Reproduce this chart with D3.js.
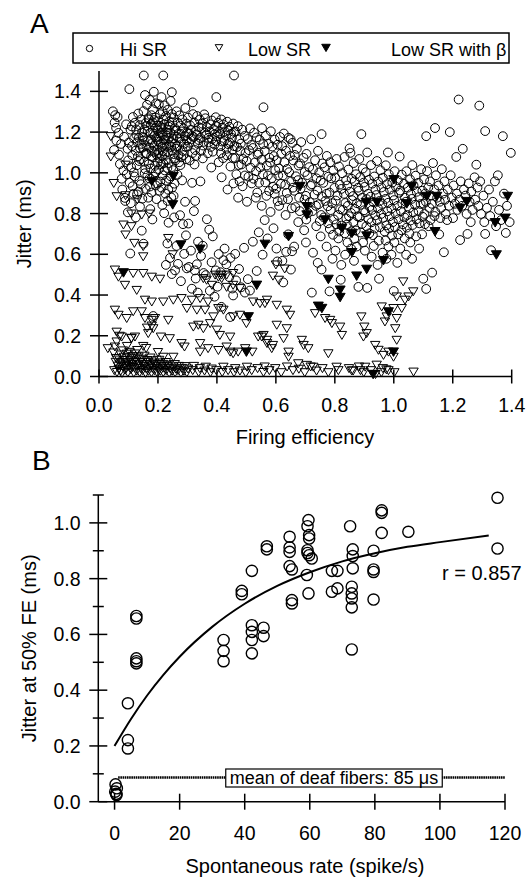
<!DOCTYPE html>
<html><head><meta charset="utf-8">
<script src="https://cdn.jsdelivr.net/npm/d3@7"></script>
<style>body{margin:0;background:#fff}svg{display:block}text{font-family:"Liberation Sans",Arial,sans-serif;fill:#000}</style>
</head><body>
<svg id="c" width="530" height="877"></svg>
<script>
// ---------- Panel A data: [firing efficiency, jitter (ms)] ----------
// Hi SR, low firing efficiency part (x < 0.30)
const hiSRleft = [
[0.047,1.302],[0.053,1.247],[0.058,1.221],[0.055,1.283],[0.059,1.158],[0.051,1.112],
[0.066,1.196],[0.071,1.043],[0.077,0.971],[0.063,1.274],[0.075,1.142],[0.068,1.089],[0.079,0.918],
[0.083,1.012],[0.088,0.877],[0.092,1.238],[0.085,1.177],[0.097,1.118],[0.094,0.993],[0.089,0.862],[0.098,0.806],[0.099,1.061],
[0.103,1.411],[0.107,1.212],[0.101,1.148],[0.113,1.086],[0.109,1.027],[0.104,0.951],[0.117,0.897],[0.106,0.604],[0.115,1.274],[0.111,1.228],[0.119,1.169],[0.112,1.131],[0.118,1.002],[0.114,0.934],[0.108,0.851],
[0.122,1.246],[0.127,1.186],[0.131,1.151],[0.124,1.109],[0.136,1.058],[0.121,0.982],[0.129,0.894],[0.125,0.781],[0.133,1.291],[0.138,1.234],[0.126,1.213],[0.135,1.172],[0.139,1.121],[0.132,1.081],[0.128,1.037],[0.137,0.961],[0.134,0.908],[0.139,0.834],
[0.143,1.262],[0.146,1.198],[0.152,1.159],[0.148,1.124],[0.141,1.067],[0.157,1.018],[0.142,0.944],[0.147,0.873],[0.145,0.716],[0.152,1.478],[0.156,1.382],[0.151,1.303],[0.158,1.244],[0.154,1.213],[0.149,1.176],[0.159,1.097],[0.144,1.142],[0.155,0.998],[0.158,0.921],[0.151,0.652],[0.153,1.055],
[0.163,1.334],[0.168,1.268],[0.161,1.231],[0.174,1.196],[0.166,1.157],[0.171,1.124],[0.162,1.093],[0.177,1.082],[0.169,1.043],[0.164,0.987],[0.173,0.933],[0.167,0.878],[0.172,1.358],[0.178,1.283],[0.165,1.206],[0.176,1.163],[0.161,1.131],[0.179,1.108],[0.175,1.021],[0.171,0.972],[0.178,0.903],[0.174,0.822],[0.169,1.262],[0.176,1.238],
[0.183,1.312],[0.186,1.259],[0.192,1.221],[0.188,1.182],[0.181,1.146],[0.197,1.113],[0.182,1.077],[0.189,1.034],[0.185,0.981],[0.193,0.938],[0.181,0.771],[0.184,0.297],[0.186,1.398],[0.193,1.341],[0.191,1.272],[0.197,1.232],[0.184,1.193],[0.198,1.162],[0.187,1.133],[0.196,1.088],[0.199,1.052],[0.193,1.003],[0.197,0.948],[0.195,0.871],[0.188,1.102],[0.194,1.173],[0.182,1.248],[0.199,1.207],
[0.203,1.337],[0.207,1.288],[0.201,1.253],[0.213,1.214],[0.204,1.178],[0.209,1.142],[0.216,1.107],[0.206,1.071],[0.203,1.018],[0.208,0.957],[0.205,0.912],[0.212,1.372],[0.216,1.302],[0.218,1.262],[0.211,1.224],[0.217,1.188],[0.202,1.153],[0.219,1.161],[0.214,1.083],[0.211,1.042],[0.216,0.988],[0.212,0.927],[0.215,0.842],[0.209,1.197],[0.214,1.128],[0.201,1.097],[0.218,1.046],[0.207,1.231],
[0.218,1.478],[0.223,1.331],[0.227,1.279],[0.221,1.238],[0.232,1.197],[0.224,1.163],[0.229,1.128],[0.222,1.092],[0.236,1.048],[0.223,1.012],[0.228,0.962],[0.225,0.898],[0.221,0.802],[0.227,0.548],[0.233,1.309],[0.238,1.252],[0.231,1.213],[0.236,1.171],[0.239,1.137],[0.234,1.102],[0.226,1.063],[0.232,1.024],[0.238,0.971],[0.235,0.917],[0.233,0.862],[0.236,0.755],[0.232,0.653],[0.229,1.183],[0.237,1.226],[0.222,1.141],
[0.243,1.353],[0.247,1.289],[0.241,1.233],[0.253,1.186],[0.244,1.152],[0.249,1.109],[0.256,1.071],[0.246,1.028],[0.243,0.983],[0.248,0.927],[0.245,0.879],[0.241,0.582],[0.247,0.503],[0.247,1.396],[0.253,1.271],[0.257,1.219],[0.251,1.168],[0.258,1.142],[0.254,1.092],[0.259,1.061],[0.252,1.013],[0.256,0.947],[0.253,0.887],[0.255,0.781],[0.258,0.521],[0.242,1.198],[0.249,1.247],[0.245,1.127],
[0.263,1.302],[0.267,1.247],[0.261,1.208],[0.274,1.169],[0.264,1.131],[0.269,1.088],[0.272,1.052],[0.266,0.991],[0.263,0.641],[0.268,0.553],[0.273,1.282],[0.277,1.232],[0.271,1.193],[0.278,1.153],[0.262,1.118],[0.279,1.076],[0.276,1.038],[0.275,0.792],[0.278,0.468],[0.266,1.176],
[0.283,1.262],[0.287,1.218],[0.291,1.181],[0.288,1.142],[0.284,1.108],[0.296,1.067],[0.282,0.963],[0.285,0.748],[0.289,0.602],[0.293,1.318],[0.297,1.242],[0.281,1.203],[0.298,1.161],[0.294,1.128],[0.286,1.087],[0.292,0.858],[0.295,0.693],[0.298,0.531],[0.299,1.196]
];
// Hi SR, middle part, read in narrow x bins: [x values, jitter values]
const hiSRmid = [
[[0.302,0.309,0.305,0.314,0.301,0.317,0.308,0.312,0.319,0.306,0.315,0.303,0.305,0.316,0.312,0.315,0.318],[1.271,1.233,1.194,1.166,1.129,1.097,1.061,1.212,1.288,1.148,1.181,0.751,0.538,0.951,0.618,0.431,1.346]],
[[0.323,0.328,0.321,0.336,0.326,0.333,0.339,0.331,0.324,0.338,0.329,0.326,0.322,0.325,0.328,0.336,0.332,0.335],[1.247,1.206,1.176,1.143,1.112,1.279,1.224,1.189,1.041,1.161,1.083,0.862,0.812,0.521,0.481,0.662,0.551,0.412]],
[[0.342,0.348,0.344,0.353,0.357,0.351,0.359,0.346,0.355,0.352,0.344,0.346,0.352,0.355],[1.262,1.219,1.171,1.134,1.287,1.241,1.196,1.108,1.152,1.071,0.958,0.592,0.642,0.508]],
[[0.361,0.366,0.364,0.372,0.369,0.377,0.375,0.371,0.379,0.366,0.362,0.374,0.376],[1.268,1.224,1.187,1.149,1.096,1.238,1.203,1.172,1.127,0.772,0.498,0.721,0.421]],
[[0.383,0.389,0.384,0.392,0.386,0.396,0.398,0.393,0.381,0.397,0.386,0.382,0.396,0.392,0.398],[1.257,1.214,1.166,1.139,1.104,1.273,1.229,1.191,1.026,1.156,0.688,0.561,0.521,0.392,1.372]],
[[0.404,0.408,0.401,0.413,0.406,0.415,0.419,0.411,0.417,0.414,0.416,0.406,0.402,0.412,0.415],[1.246,1.203,1.178,1.131,1.052,1.262,1.222,1.191,1.154,1.097,0.978,0.601,0.441,0.512,0.342]],
[[0.422,0.427,0.424,0.433,0.421,0.435,0.439,0.431,0.438,0.434,0.436,0.426,0.422,0.432],[1.238,1.203,1.157,1.118,1.072,1.251,1.208,1.183,1.141,1.086,0.918,0.628,0.571,0.551]],
[[0.442,0.448,0.444,0.453,0.446,0.455,0.458,0.451,0.459,0.454,0.456,0.446,0.442,0.445,0.452,0.455,0.458],[1.226,1.191,1.146,1.113,1.031,1.242,1.201,1.172,1.131,1.074,0.948,0.582,0.488,0.292,0.432,0.398,1.478]],
[[0.471,0.463,0.476,0.468,0.479,0.462,0.474,0.466,0.477,0.472,0.462,0.465,0.475],[1.229,1.203,1.164,1.127,1.109,1.072,1.038,0.993,0.958,0.878,0.602,0.472,0.528]],
[[0.486,0.494,0.481,0.497,0.489,0.483,0.495,0.487,0.482,0.492,0.495],[1.212,1.181,1.143,1.097,1.068,1.041,0.987,0.934,0.438,0.632,0.412]],
[[0.512,0.504,0.517,0.509,0.501,0.514,0.507,0.518,0.502,0.505,0.512],[1.218,1.166,1.137,1.111,1.058,1.026,0.981,0.948,0.858,0.478,0.422]],
[[0.526,0.535,0.522,0.538,0.529,0.533,0.524,0.537,0.532,0.522,0.535],[1.197,1.174,1.122,1.089,1.051,1.008,0.971,0.903,0.878,0.662,0.518]],
[[0.558,0.553,0.545,0.557,0.541,0.552,0.547,0.556,0.543,0.552,0.542,0.555],[1.322,1.219,1.162,1.141,1.098,1.064,1.027,0.993,0.951,0.838,0.708,0.598]],
[[0.566,0.575,0.562,0.578,0.569,0.573,0.564,0.577,0.568,0.562,0.572],[1.183,1.142,1.107,1.074,1.036,0.987,0.953,0.911,0.887,0.768,0.678]],
[[0.583,0.596,0.588,0.593,0.581,0.598,0.586,0.591,0.596,0.582,0.592],[1.204,1.163,1.129,1.082,1.051,1.013,0.974,0.931,0.897,0.808,0.728]],
[[0.614,0.606,0.618,0.603,0.611,0.608,0.617,0.601,0.606,0.611,0.602,0.605],[1.176,1.138,1.094,1.062,1.021,0.987,0.946,0.922,0.861,0.838,0.628,0.565]],
[[0.627,0.621,0.634,0.629,0.638,0.624,0.632,0.637,0.622,0.633,0.622,0.625,0.635],[1.193,1.131,1.108,1.052,1.019,0.987,0.941,0.902,0.866,0.793,0.568,0.462,0.612]],
[[0.643,0.656,0.648,0.659,0.645,0.652,0.658,0.641,0.654,0.642,0.655,0.651,0.650],[1.172,1.147,1.083,1.061,1.003,0.958,0.927,0.871,0.826,0.698,0.615,0.525,1.165]],
[[0.671,0.664,0.677,0.668,0.675,0.662,0.679,0.666,0.676,0.662],[1.118,1.088,1.036,0.983,0.964,0.912,0.878,0.832,0.758,0.638]],
[[0.686,0.694,0.682,0.698,0.689,0.684,0.697,0.681,0.696],[1.151,1.074,1.046,1.004,0.951,0.923,0.869,0.812,0.718]],
[[0.720,0.704,0.713,0.707,0.718,0.702,0.715,0.709,0.703,0.702],[1.165,1.093,1.028,0.989,0.936,0.887,0.856,0.802,0.771,0.658]],
[[0.733,0.726,0.738,0.722,0.731,0.736,0.724,0.737,0.726,0.722],[1.062,1.017,0.973,0.944,0.893,0.838,0.812,0.738,0.608,0.412]],
[[0.755,0.743,0.758,0.747,0.752,0.741,0.756,0.745,0.754,0.749,0.752,0.742,0.755],[1.190,1.108,1.046,1.002,0.962,0.913,0.884,0.846,0.793,0.763,0.688,0.558,0.525]],
[[0.773,0.765,0.778,0.761,0.772,0.768,0.776,0.763,0.777,0.772],[1.083,1.027,0.981,0.951,0.897,0.862,0.836,0.781,0.752,0.638]],
[[0.784,0.795,0.788,0.799,0.782,0.791,0.786,0.797,0.783,0.794,0.792,0.782],[1.052,1.011,0.973,0.926,0.903,0.851,0.817,0.771,0.724,0.696,0.578,0.418]],
[[0.806,0.814,0.801,0.817,0.809,0.803,0.818,0.811,0.805,0.815,0.812,0.802],[1.068,1.031,0.977,0.942,0.889,0.864,0.821,0.793,0.747,0.712,0.678,0.618]],
[[0.833,0.825,0.838,0.822,0.831,0.836,0.827,0.839,0.823,0.834,0.835,0.822,0.820],[1.078,0.998,0.963,0.921,0.897,0.852,0.818,0.776,0.741,0.703,0.598,0.548,0.475]],
[[0.850,0.853,0.846,0.857,0.842,0.851,0.858,0.844,0.855,0.848,0.841,0.856,0.843,0.855],[1.120,1.098,1.016,0.971,0.938,0.907,0.866,0.838,0.803,0.787,0.746,0.713,0.658,0.628]],
[[0.864,0.872,0.867,0.879,0.862,0.875,0.868,0.877,0.863,0.871,0.866,0.874,0.865],[1.048,0.993,0.958,0.927,0.886,0.851,0.823,0.786,0.759,0.717,0.676,0.638,0.568]],
[[0.890,0.883,0.895,0.886,0.898,0.881,0.893,0.887,0.899,0.884,0.892,0.888,0.896,0.880],[1.190,1.068,1.021,0.979,0.952,0.912,0.878,0.843,0.816,0.782,0.749,0.707,0.658,0.440]],
[[0.910,0.905,0.916,0.901,0.913,0.908,0.918,0.903,0.914,0.907,0.917,0.902,0.910],[1.100,1.003,0.966,0.931,0.897,0.871,0.833,0.806,0.772,0.738,0.703,0.618,0.435]],
[[0.923,0.934,0.927,0.938,0.921,0.931,0.926,0.937,0.924,0.935,0.929,0.932,0.925],[1.038,0.982,0.947,0.917,0.883,0.856,0.818,0.791,0.757,0.726,0.694,0.641,0.588]],
[[0.943,0.955,0.947,0.958,0.941,0.952,0.946,0.957,0.944,0.953,0.949,0.945,0.950],[1.058,1.013,0.957,0.928,0.891,0.862,0.827,0.798,0.768,0.733,0.667,0.548,0.480]],
[[0.980,0.973,0.963,0.977,0.966,0.972,0.961,0.978,0.964,0.975,0.969,0.972,0.962,0.975],[1.100,1.037,0.976,0.944,0.906,0.872,0.847,0.811,0.779,0.742,0.712,0.668,0.608,0.578]],
[[0.983,0.995,0.987,0.998,0.981,0.992,0.986,0.997,0.984,0.994,0.982,0.992],[0.993,0.952,0.918,0.889,0.853,0.824,0.787,0.758,0.727,0.692,0.638,0.598]],
[[1.020,1.003,1.014,1.007,1.018,1.001,1.012,1.006,1.016,1.004,1.015,1.002,1.012,1.000],[1.080,1.008,0.963,0.932,0.902,0.866,0.838,0.801,0.772,0.734,0.698,0.658,0.558,0.420]],
[[1.027,1.035,1.022,1.038,1.029,1.024,1.036,1.031,1.026,1.037,1.022],[0.991,0.946,0.913,0.878,0.849,0.812,0.781,0.747,0.718,0.678,0.628]],
[[1.043,1.055,1.047,1.058,1.041,1.052,1.046,1.057,1.044,1.053,1.056,1.042],[1.008,0.968,0.927,0.896,0.858,0.827,0.793,0.766,0.731,0.702,0.658,0.598]],
[[1.063,1.074,1.067,1.078,1.061,1.072,1.066,1.077,1.064,1.076,1.062],[1.038,0.986,0.939,0.907,0.872,0.843,0.806,0.772,0.744,0.688,0.578]],
[[1.093,1.083,1.097,1.086,1.091,1.084,1.098,1.087,1.096,1.086,1.100],[1.018,0.951,0.912,0.881,0.847,0.813,0.784,0.752,0.698,0.628,0.480]]
];
// Hi SR, high firing efficiency part (x > 1.10)
const hiSRright = [
[1.103,0.968],[1.107,0.898],[1.101,0.848],[1.104,0.798],[1.106,0.748],[1.110,1.180],[1.113,1.008],[1.117,0.928],[1.109,0.858],[1.118,0.738],[1.110,0.430],[1.123,0.958],[1.127,0.888],[1.121,0.828],[1.124,0.768],[1.130,0.510],
[1.133,1.048],[1.137,0.918],[1.129,0.848],[1.138,0.788],[1.140,1.220],[1.143,0.988],[1.147,0.878],[1.141,0.808],[1.152,0.938],[1.156,0.858],[1.158,0.778],[1.154,0.698],[1.163,1.018],[1.167,0.898],[1.161,0.828],
[1.172,0.958],[1.174,0.868],[1.176,0.798],[1.170,0.610],[1.183,0.918],[1.187,0.838],[1.181,0.768],[1.190,1.200],[1.193,0.988],[1.197,0.878],[1.203,0.938],[1.207,0.848],[1.201,0.778],[1.212,1.078],[1.214,0.898],[1.216,0.818],
[1.220,1.360],[1.225,0.670],[1.227,0.958],[1.223,0.868],[1.234,1.118],[1.238,0.918],[1.232,0.838],[1.243,0.888],[1.247,0.798],[1.250,0.700],[1.254,0.948],[1.257,0.858],[1.263,0.908],[1.267,0.818],[1.261,0.758],
[1.274,0.978],[1.276,0.868],[1.280,1.040],[1.284,0.928],[1.287,0.838],[1.290,1.330],[1.293,0.958],[1.296,0.798],[1.304,0.888],[1.307,0.758],[1.310,1.205],[1.310,0.700],[1.316,0.828],[1.323,0.918],[1.327,0.788],
[1.330,0.620],[1.336,0.858],[1.343,0.958],[1.347,0.738],[1.353,0.988],[1.357,0.818],[1.364,0.768],[1.370,1.180],[1.374,0.898],[1.380,0.705],[1.384,0.838],[1.393,0.758],[1.397,1.098]
];
const lowSR = [
[0.052,0.031],[0.057,0.072],[0.049,0.118],[0.061,0.022],[0.064,0.053],[0.058,0.091],[0.067,0.038],[0.071,0.064],[0.069,0.083],[0.074,0.108],[0.073,0.027],[0.078,0.018],[0.082,0.049],[0.079,0.071],[0.085,0.097],[0.081,0.128],
[0.088,0.033],[0.091,0.058],[0.087,0.081],[0.094,0.112],[0.092,0.041],[0.098,0.021],[0.101,0.052],[0.097,0.069],[0.104,0.093],[0.103,0.121],[0.108,0.036],[0.111,0.062],[0.107,0.079],[0.114,0.101],[0.113,0.046],[0.118,0.019],
[0.121,0.043],[0.117,0.071],[0.124,0.089],[0.122,0.113],[0.128,0.029],[0.131,0.054],[0.127,0.078],[0.134,0.098],[0.138,0.022],[0.141,0.041],[0.137,0.063],[0.144,0.087],[0.148,0.031],[0.151,0.052],[0.147,0.071],[0.154,0.102],
[0.158,0.018],[0.161,0.038],[0.157,0.061],[0.164,0.081],[0.168,0.028],[0.171,0.049],[0.167,0.072],[0.174,0.093],[0.178,0.021],[0.181,0.042],[0.177,0.058],[0.184,0.079],[0.188,0.031],[0.191,0.053],[0.187,0.068],[0.198,0.019],
[0.201,0.039],[0.197,0.061],[0.204,0.082],[0.208,0.028],[0.211,0.051],[0.207,0.069],[0.218,0.022],[0.221,0.043],[0.217,0.062],[0.228,0.031],[0.231,0.052],[0.227,0.071],[0.238,0.019],[0.241,0.041],[0.237,0.058],[0.248,0.028],
[0.251,0.049],[0.258,0.021],[0.261,0.038],[0.257,0.061],[0.268,0.031],[0.271,0.052],[0.278,0.019],[0.281,0.042],[0.288,0.028],[0.291,0.051],[0.298,0.021],[0.302,0.039],[0.318,0.031],[0.322,0.052],[0.338,0.022],[0.342,0.041],
[0.358,0.029],[0.362,0.048],[0.378,0.021],[0.382,0.039],[0.398,0.031],[0.418,0.022],[0.422,0.048],[0.438,0.031],[0.458,0.021],[0.462,0.041],[0.478,0.029],[0.498,0.019],[0.502,0.048],[0.518,0.031],[0.538,0.041],[0.558,0.022],
[0.562,0.049],[0.578,0.031],[0.598,0.041],[0.618,0.021],[0.638,0.049],[0.658,0.031],[0.676,0.065],[0.678,0.038],[0.698,0.021],[0.705,0.057],[0.718,0.049],[0.727,0.048],[0.738,0.029],[0.758,0.041],[0.778,0.021],[0.806,0.048],
[0.812,0.031],[0.848,0.041],[0.857,0.030],[0.862,0.029],[0.882,0.049],[0.887,0.031],[0.898,0.021],[0.903,0.048],[0.922,0.031],[0.938,0.012],[0.942,0.058],[0.958,0.021],[0.963,0.041],[0.975,0.035],[0.982,0.031],[1.002,0.021],[1.067,0.024],
[0.030,0.139],[0.054,0.147],[0.040,1.180],[0.040,1.080],[0.090,1.040],[0.050,0.950],[0.060,0.885],[0.090,0.890],[0.130,0.870],[0.110,0.800],[0.145,0.795],[0.170,0.800],[0.083,0.746],[0.110,0.738],[0.090,0.697],[0.235,0.680],
[0.120,0.656],[0.150,0.640],[0.150,0.590],[0.250,0.600],[0.054,0.525],[0.066,0.490],[0.088,0.450],[0.116,0.508],[0.150,0.508],[0.179,0.490],[0.207,0.480],[0.128,0.425],[0.156,0.377],[0.179,0.368],[0.218,0.368],[0.252,0.377],
[0.054,0.328],[0.066,0.303],[0.094,0.287],[0.156,0.287],[0.179,0.278],[0.163,0.240],[0.179,0.250],[0.060,0.220],[0.077,0.196],[0.060,0.172],[0.110,0.188],[0.122,0.196],[0.210,0.196],[0.240,0.188],[0.150,0.150],[0.160,0.140],
[0.218,0.097],[0.252,0.097],[0.280,0.385],[0.315,0.377],[0.343,0.385],[0.370,0.368],[0.298,0.336],[0.332,0.328],[0.360,0.328],[0.320,0.245],[0.337,0.254],[0.354,0.237],[0.377,0.262],[0.400,0.230],[0.410,0.204],[0.445,0.196],
[0.280,0.164],[0.290,0.147],[0.343,0.164],[0.343,0.122],[0.370,0.139],[0.405,0.130],[0.433,0.147],[0.365,0.475],[0.383,0.450],[0.405,0.490],[0.416,0.483],[0.433,0.440],[0.455,0.450],[0.478,0.434],[0.354,0.483],[0.394,0.500],
[0.416,0.500],[0.433,0.500],[0.455,0.508],[0.405,0.336],[0.422,0.328],[0.388,0.295],[0.455,0.295],[0.478,0.303],[0.500,0.262],[0.523,0.368],[0.546,0.360],[0.570,0.377],[0.540,0.196],[0.558,0.204],[0.570,0.180],[0.496,0.139],
[0.520,0.122],[0.445,0.122],[0.455,0.114],[0.472,0.122],[0.235,0.278],[0.190,0.287],[0.145,0.320],[0.116,0.320],[0.184,0.237],[0.167,0.213],[0.590,0.495],[0.610,0.475],[0.563,0.360],[0.603,0.352],[0.637,0.328],[0.648,0.303],
[0.603,0.254],[0.637,0.237],[0.626,0.188],[0.552,0.196],[0.570,0.164],[0.590,0.155],[0.586,0.139],[0.688,0.180],[0.694,0.155],[0.710,0.139],[0.643,0.122],[0.643,0.097],[0.778,0.114],[0.733,0.311],[0.767,0.287],[0.818,0.245],
[0.824,0.204],[0.784,0.278],[0.790,0.262],[0.890,0.295],[0.900,0.245],[0.908,0.213],[0.897,0.196],[0.937,0.155],[0.948,0.131],[0.965,0.106],[0.982,0.122],[0.999,0.097],[1.010,0.180],[1.005,0.237],[1.010,0.287],[0.976,0.295],
[0.959,0.344],[0.970,0.270],[0.999,0.336],[1.027,0.336],[1.038,0.377],[1.050,0.393],[1.066,0.418],[1.032,0.467],[1.010,0.393],[0.600,0.550],[0.630,0.530],[0.070,0.200],[0.110,0.190],[0.095,0.150],[0.130,0.130],[0.200,0.120]
];
const lowSRbeta = [
[0.083,0.511],[0.179,0.96],[0.252,0.984],[0.25,0.845],[0.278,0.648],[0.343,0.627],
[0.535,0.45],[0.507,0.295],[0.5,0.122],[0.563,0.651],[0.643,0.689],[0.682,0.935],
[0.705,0.836],[0.705,0.795],[0.767,0.771],[0.824,0.73],[0.858,0.705],[0.906,0.857],
[0.943,0.857],[0.908,0.692],[1.0,0.968],[1.044,0.85],[1.061,0.935],[1.112,0.886],
[1.146,0.886],[1.14,0.713],[1.225,0.828],[1.248,0.861],[1.386,0.886],[1.378,0.779],
[1.344,0.757],[1.348,0.599],[0.858,0.61],[0.965,0.571],[0.908,0.528],[0.778,0.479],
[0.874,0.495],[0.818,0.426],[0.818,0.39],[0.744,0.347],[0.756,0.336],[0.982,0.319],
[0.999,0.122],[0.93,0.012]
];
const xTicksA = [0.0,0.2,0.4,0.6,0.8,1.0,1.2,1.4];
const yTicksA = [0.0,0.2,0.4,0.6,0.8,1.0,1.2,1.4];
const legendItems = ["Hi SR","Low SR","Low SR with β"];

// ---------- Panel B data (spontaneous rate, jitter at 50% FE) ----------
const rateB = [0.3,0.7,0.2,0.5,0.6,4.1,4.1,4.1,6.7,6.7,6.7,6.7,6.7,33.5,33.5,33.5,39.1,39.1,
42.2,42.2,42.2,42.2,42.2,45.8,45.8,46.8,46.8,53.8,53.8,53.8,53.8,54.5,54.5,54.5,
59.6,59.3,59.8,59.8,59.3,59.3,59.8,60.6,59.1,59.6,66.8,68.5,66.8,68.5,
72.4,73.2,73.2,73.2,72.9,72.9,72.9,72.9,72.9,79.6,79.6,79.6,79.6,82.1,82.1,82.1,90.3,117.7,117.7];
const jitterB = [0.062,0.048,0.036,0.028,0.024,0.353,0.221,0.191,0.666,0.657,0.514,0.504,0.496,0.580,0.541,0.504,0.756,0.744,
0.828,0.633,0.609,0.580,0.532,0.624,0.594,0.916,0.905,0.950,0.912,0.896,0.845,0.833,0.723,0.711,
1.010,0.988,0.956,0.944,0.902,0.892,0.884,0.872,0.813,0.747,0.828,0.828,0.753,0.765,
0.988,0.905,0.881,0.837,0.771,0.747,0.729,0.697,0.546,0.900,0.833,0.824,0.725,1.045,1.036,0.964,0.968,1.090,0.908];
const fitRate = [0,5,10,15,20,30,40,50,60,70,80,90,100,115];
const fitJitter = [0.200,0.296,0.381,0.455,0.520,0.627,0.710,0.774,0.823,0.862,0.891,0.914,0.931,0.955];
const deafRate = [1.1,120];
const deafJitter = [0.087,0.087];
const xTicksB = [0,20,40,60,80,100,120];
const yTicksB = [0.0,0.2,0.4,0.6,0.8,1.0];
const yMinorB = [0.1,0.3,0.5,0.7,0.9,1.1];

// ---------- drawing ----------
const svg = d3.select("#c");
const fmt1 = d3.format(".1f");
const AX = 1.5;
function tri(s){ return `M${-s},${-s*0.75}L${s},${-s*0.75}L0,${s*0.95}Z`; }

const hiSR = hiSRleft
  .concat(hiSRmid.flatMap(([xs,ys]) => xs.map((x,i) => [x, ys[i]])))
  .concat(hiSRright);

// Panel A
const xA = d3.scaleLinear([0,1.4],[99,511.7]);
const yA = d3.scaleLinear([0,1.5],[376.5,71]);
const gA = svg.append("g");
gA.append("g").selectAll("circle").data(hiSR).join("circle")
  .attr("cx",d=>xA(d[0])).attr("cy",d=>yA(d[1])).attr("r",4.4)
  .attr("fill","none").attr("stroke","#000").attr("stroke-width",1);
gA.append("g").selectAll("path").data(lowSR).join("path")
  .attr("transform",d=>`translate(${xA(d[0])},${yA(d[1])})`).attr("d",tri(4.7))
  .attr("fill","none").attr("stroke","#000").attr("stroke-width",1);
gA.append("g").selectAll("path").data(lowSRbeta).join("path")
  .attr("transform",d=>`translate(${xA(d[0])},${yA(d[1])})`).attr("d",tri(5))
  .attr("fill","#000").attr("stroke","#000").attr("stroke-width",1);

gA.append("line").attr("x1",xA(0)).attr("x2",xA(0)).attr("y1",yA(1.5)).attr("y2",yA(0)).attr("stroke","#000").attr("stroke-width",AX);
gA.append("line").attr("x1",xA(0)).attr("x2",xA(1.4)).attr("y1",yA(0)).attr("y2",yA(0)).attr("stroke","#000").attr("stroke-width",AX);
yTicksA.forEach(v=>{
  gA.append("line").attr("x1",xA(0)-9).attr("x2",xA(0)+9).attr("y1",yA(v)).attr("y2",yA(v)).attr("stroke","#000").attr("stroke-width",AX);
  gA.append("text").attr("x",81).attr("y",yA(v)).attr("dy","0.36em").attr("text-anchor","end").attr("font-size",19.5).text(fmt1(v));
});
xTicksA.forEach(v=>{
  gA.append("line").attr("x1",xA(v)).attr("x2",xA(v)).attr("y1",yA(0)-7).attr("y2",yA(0)+7).attr("stroke","#000").attr("stroke-width",AX);
  gA.append("text").attr("x",xA(v)).attr("y",412).attr("text-anchor","middle").attr("font-size",19.5).text(fmt1(v));
});
gA.append("text").attr("x",305).attr("y",444).attr("text-anchor","middle").attr("font-size",20).text("Firing efficiency");
gA.append("text").attr("transform",`translate(31,${(yA(0)+yA(1.5))/2}) rotate(-90)`).attr("text-anchor","middle").attr("font-size",20).text("Jitter (ms)");
svg.append("text").attr("x",30).attr("y",33).attr("font-size",28).text("A");

// legend
const lg = svg.append("g");
lg.append("rect").attr("x",73).attr("y",33).attr("width",436).attr("height",30).attr("fill","#fff").attr("stroke","#000").attr("stroke-width",1.5);
const legX = [[89.5,120],[219,248],[326,391]];
lg.append("circle").attr("cx",legX[0][0]).attr("cy",48.5).attr("r",3.2).attr("fill","none").attr("stroke","#000").attr("stroke-width",1);
lg.append("path").attr("transform",`translate(${legX[1][0]},47.5)`).attr("d",tri(3.8)).attr("fill","none").attr("stroke","#000").attr("stroke-width",1);
lg.append("path").attr("transform",`translate(${legX[2][0]},47.5)`).attr("d",tri(4.3)).attr("fill","#000").attr("stroke","#000").attr("stroke-width",1);
legendItems.forEach((t,i)=>lg.append("text").attr("x",legX[i][1]).attr("y",55.5).attr("font-size",18).text(t));

// Panel B
const xB = d3.scaleLinear([-5,120],[98.3,505]);
const yB = d3.scaleLinear([0,1.1],[801.7,495]);
const gB = svg.append("g");
gB.append("line").attr("x1",xB(-5)).attr("x2",xB(-5)).attr("y1",yB(1.1)).attr("y2",yB(0)).attr("stroke","#000").attr("stroke-width",AX);
gB.append("line").attr("x1",xB(-5)).attr("x2",xB(120)).attr("y1",yB(0)).attr("y2",yB(0)).attr("stroke","#000").attr("stroke-width",AX);
yTicksB.forEach(v=>{
  gB.append("line").attr("x1",xB(-5)-9).attr("x2",xB(-5)+9).attr("y1",yB(v)).attr("y2",yB(v)).attr("stroke","#000").attr("stroke-width",AX);
  gB.append("text").attr("x",80.5).attr("y",yB(v)).attr("dy","0.36em").attr("text-anchor","end").attr("font-size",19.5).text(fmt1(v));
});
yMinorB.forEach(v=>{
  gB.append("line").attr("x1",xB(-5)-5.5).attr("x2",xB(-5)+5.5).attr("y1",yB(v)).attr("y2",yB(v)).attr("stroke","#000").attr("stroke-width",AX);
});
xTicksB.forEach(v=>{
  gB.append("line").attr("x1",xB(v)).attr("x2",xB(v)).attr("y1",yB(0)-8).attr("y2",yB(0)+8).attr("stroke","#000").attr("stroke-width",AX);
  gB.append("text").attr("x",xB(v)).attr("y",840).attr("text-anchor","middle").attr("font-size",19.5).text(v);
});
gB.append("text").attr("x",305).attr("y",873).attr("text-anchor","middle").attr("font-size",20).text("Spontaneous rate (spike/s)");
gB.append("text").attr("transform",`translate(36,${(yB(0)+yB(1.1))/2}) rotate(-90)`).attr("text-anchor","middle").attr("font-size",20).text("Jitter at 50% FE (ms)");
svg.append("text").attr("x",32).attr("y",470).attr("font-size",28).text("B");

// deaf fiber mean line, then labelled box on top
const deafData = deafRate.map((r,i)=>[r,deafJitter[i]]);
gB.append("path").datum(deafData).attr("d",d3.line().x(d=>xB(d[0])).y(d=>yB(d[1])))
  .attr("stroke","#000").attr("stroke-width",2.6).attr("stroke-dasharray","1.6,0.6").attr("fill","none");
const boxG = gB.append("g");
const deafRect = boxG.append("rect");
const deafT = boxG.append("text").attr("x",334).attr("y",784).attr("text-anchor","middle").attr("font-size",18).text("mean of deaf fibers: 85 μs");
const bb = deafT.node().getBBox();
deafRect.attr("x",bb.x-4).attr("y",769).attr("width",bb.width+8).attr("height",18)
  .attr("fill","#fff").attr("stroke","#000").attr("stroke-width",1.2);

// fit curve
const fitData = fitRate.map((r,i)=>[r,fitJitter[i]]);
gB.append("path").datum(fitData).attr("d",d3.line().x(d=>xB(d[0])).y(d=>yB(d[1])).curve(d3.curveMonotoneX))
  .attr("stroke","#000").attr("stroke-width",2).attr("fill","none");

gB.append("g").selectAll("circle").data(rateB.map((r,i)=>[r,jitterB[i]])).join("circle")
  .attr("cx",d=>xB(d[0])).attr("cy",d=>yB(d[1])).attr("r",5.6)
  .attr("fill","none").attr("stroke","#000").attr("stroke-width",1.4);
gB.append("text").attr("x",442).attr("y",580).attr("font-size",20).text("r = 0.857");
</script>
</body></html>
